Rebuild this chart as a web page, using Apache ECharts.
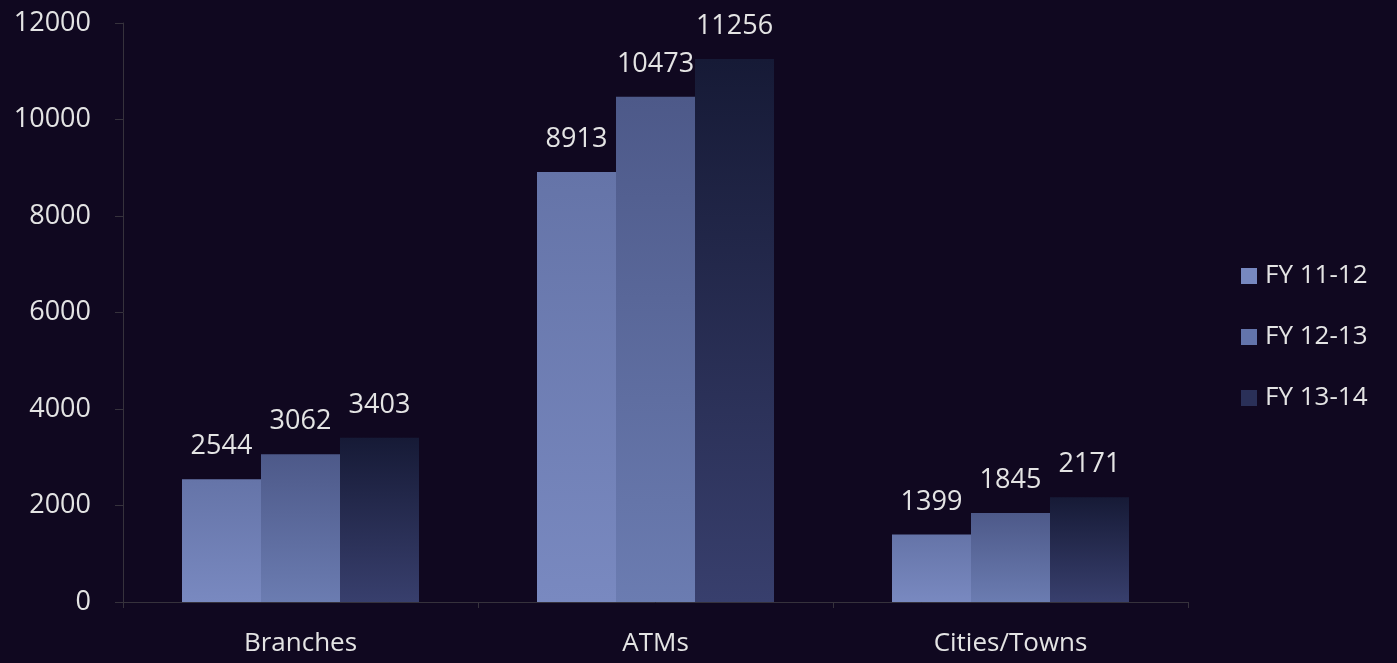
<!DOCTYPE html>
<html>
<head>
<meta charset="utf-8">
<script src="https://cdn.jsdelivr.net/npm/echarts@6/dist/echarts.min.js"></script>
<style>
  html, body { margin: 0; padding: 0; background: #100820; }
  #chart { width: 1397px; height: 663px; }
</style>
</head>
<body>
<div id="chart"></div>
<script>
const categories = ['Branches', 'ATMs', 'Cities/Towns']
const seriesNames = ['FY 11-12', 'FY 12-13', 'FY 13-14']
const fy1112 = [2544, 8913, 1399]
const fy1213 = [3062, 10473, 1845]
const fy1314 = [3403, 11256, 2171]
const yTicks = [0, 2000, 4000, 6000, 8000, 10000, 12000]

// top colour, bottom colour
const barColors = [
  ['#6574a8', '#7989c0'],
  ['#4d5989', '#6b7cb1'],
  ['#161a36', '#383f6d']
]
const legendColors = ['#7788c0', '#6374ab', '#2a3058']

const font = '"Open Sans", "Noto Sans", sans-serif'
const txt = '#e4e4e4'

function grad(c) {
  return new echarts.graphic.LinearGradient(0, 0, 0, 1, [
    { offset: 0, color: c[0] },
    { offset: 1, color: c[1] }
  ])
}

const chart = echarts.init(document.getElementById('chart'))
const allData = [fy1112, fy1213, fy1314]

chart.setOption({
  backgroundColor: '#100820',
  animation: false,
  grid: { left: 123, right: 209, top: 23, bottom: 61, containLabel: false },
  legend: {
    orient: 'vertical',
    left: 1236,
    top: 258,
    itemWidth: 16,
    itemHeight: 16,
    itemGap: 35,
    icon: 'rect',
    textStyle: { color: txt, fontSize: 26, fontFamily: font, padding: [0, 0, 0, 3] },
    data: seriesNames.map((n, i) => ({ name: n, itemStyle: { color: legendColors[i] } }))
  },
  xAxis: {
    type: 'category',
    data: categories,
    axisLine: { lineStyle: { color: '#36323c' } },
    axisTick: { show: true, length: 6, lineStyle: { color: '#36323c' } },
    axisLabel: { color: txt, fontSize: 26, fontFamily: font, margin: 29 }
  },
  yAxis: {
    type: 'value',
    min: yTicks[0],
    max: yTicks[yTicks.length - 1],
    interval: 2000,
    splitLine: { show: false },
    axisLine: { show: true, lineStyle: { color: '#36323c' } },
    axisTick: { show: true, length: 8, lineStyle: { color: '#36323c' } },
    axisLabel: { color: txt, fontSize: 27, fontFamily: font, margin: 32, formatter: v => String(v) }
  },
  series: seriesNames.map((n, i) => ({
    name: n,
    type: 'bar',
    data: allData[i],
    barWidth: 79,
    barGap: '0%',
    itemStyle: { color: grad(barColors[i]) },
    label: {
      show: true,
      position: 'top',
      distance: 19,
      color: txt,
      fontSize: 27,
      fontFamily: font
    }
  }))
})
</script>
</body>
</html>
